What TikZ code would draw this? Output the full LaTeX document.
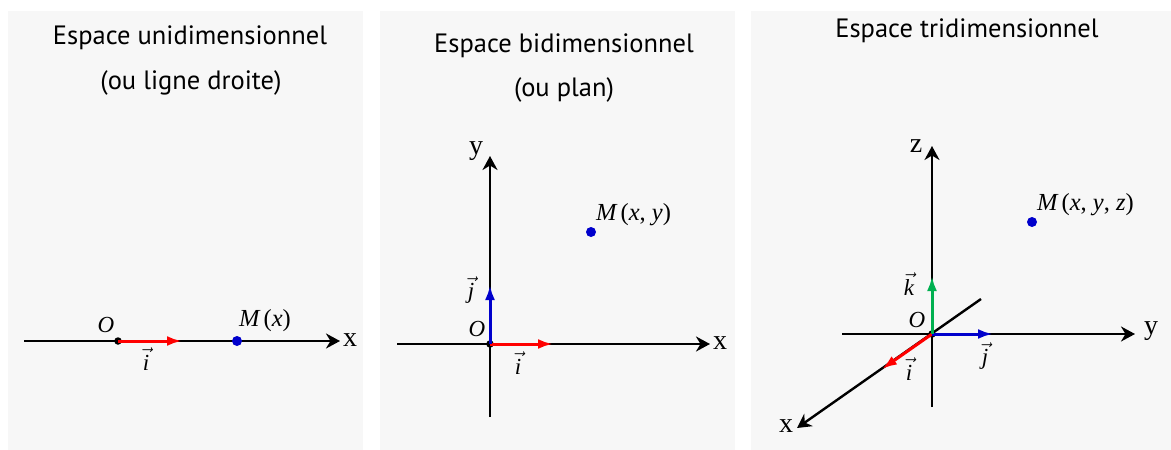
\documentclass[tikz,border=0pt]{standalone}
\usepackage{fontspec}
\setmainfont{Liberation Serif}
\newfontfamily\titlefont{PT Sans}
\usetikzlibrary{arrows.meta}
\definecolor{panelbg}{HTML}{F7F7F7}
\definecolor{vred}{HTML}{FF0000}
\definecolor{vblue}{HTML}{0000CC}
\definecolor{vgreen}{HTML}{00B050}
\newcommand{\vecl}[1]{$\vec{\mbox{\itshape #1}}$}
\tikzset{
  panel/.style={fill=panelbg, draw=none},
  ttl/.style={font=\titlefont\fontsize{26.5}{30}\selectfont, anchor=base, inner sep=0pt},
  axis/.style={line width=2.4pt, -{Stealth[length=14pt,width=15pt,inset=4.5pt]}},
  vecarrow/.style={line width=3pt, -{Latex[length=15pt,width=10pt]}},
  axlbl/.style={font=\fontsize{28}{30}\selectfont, inner sep=0pt},
  mlbl/.style={font=\fontsize{23}{26}\selectfont, inner sep=0pt},
  plbl/.style={font=\fontsize{24.5}{27}\selectfont, inner sep=0pt},
  odot/.style={circle, fill=black, minimum size=7.5pt, inner sep=0pt},
  mdot/.style={circle, fill=vblue, minimum size=10pt, inner sep=0pt},
}
\begin{document}
\begin{tikzpicture}[x=1pt,y=-1pt]
\useasboundingbox (0,0) rectangle (1171,450);
\fill[white] (0,0) rectangle (1171,450);
% panels
\path[panel] (8,11) rectangle (363,450);
\path[panel] (380,11) rectangle (735,450);
\path[panel] (751,11) rectangle (1171,450);
% titles
\node[ttl] (t1a) at (190,44) {Espace unidimensionnel};
\node[ttl] (t1b) at (191,89) {(ou ligne droite)};
\node[ttl] (t2a) at (564,52) {Espace bidimensionnel};
\node[ttl] (t2b) at (564,96) {(ou plan)};
\node[ttl] (t3a) at (967,37) {Espace tridimensionnel};

% ---------- panel 1
\coordinate (a1s) at (24,341);
\coordinate (a1e) at (340,341);
\coordinate (i1tip) at (182,341);
\draw[axis] (a1s) -- (a1e);
\node[odot] (O1) at (118,341) {};
\draw[vecarrow, vred] (O1.center) -- (i1tip);
\node[mdot] (M1) at (237,341) {};
\node[axlbl] (x1) at (350,340) {x};
\node[mlbl] (O1l) at (106,325) {\itshape O};
\node[plbl] (M1l) at (265,321) {{\itshape M}\,({\itshape x})};
\node[mlbl] (i1l) at (146,359) {\vecl{i}};

% ---------- panel 2
\coordinate (x2s) at (397,344);
\coordinate (x2e) at (710,344);
\coordinate (y2s) at (490,417);
\coordinate (y2e) at (490,156);
\coordinate (i2tip) at (553,344);
\coordinate (j2tip) at (490,285);
\draw[axis] (x2s) -- (x2e);
\draw[axis] (y2s) -- (y2e);
\node[odot] (O2) at (490,344) {};
\draw[vecarrow, vred] (O2.center) -- (i2tip);
\draw[vecarrow, vblue] (O2.center) -- (j2tip);
\node[mdot] (M2) at (591,232) {};
\node[axlbl] (x2) at (720,343) {x};
\node[axlbl] (y2) at (476,151) {y};
\node[mlbl] (O2l) at (477,329) {\itshape O};
\node[mlbl] (j2l) at (471,290) {\vecl{j}};
\node[mlbl] (i2l) at (518,363) {\vecl{i}};
\node[plbl, anchor=west] (M2l) at (596,215) {{\itshape M}\,({\itshape x}, {\itshape y})};

% ---------- panel 3
\coordinate (y3s) at (842,334);
\coordinate (y3e) at (1135,334);
\coordinate (z3s) at (932,407);
\coordinate (z3e) at (932,146);
\coordinate (x3s) at (981,299);
\coordinate (x3e) at (797,428);
\coordinate (i3tip) at (882,369);
\coordinate (j3tip) at (993,334);
\coordinate (k3tip) at (932,276);
\draw[axis] (y3s) -- (y3e);
\draw[axis] (z3s) -- (z3e);
\draw[axis] (x3s) -- (x3e);
\node[odot] (O3) at (932,334) {};
\draw[vecarrow, vred] (O3.center) -- (i3tip);
\draw[vecarrow, vblue] (O3.center) -- (j3tip);
\draw[vecarrow, vgreen] (O3.center) -- (k3tip);
\node[mdot] (M3) at (1032,222) {};
\node[axlbl] (y3) at (1151,331) {y};
\node[axlbl] (z3) at (916,146) {z};
\node[axlbl] (x3) at (786,426) {x};
\node[mlbl] (O3l) at (917,320) {\itshape O};
\node[mlbl] (k3l) at (909,284) {\vecl{k}};
\node[mlbl] (j3l) at (985,356) {\vecl{j}};
\node[mlbl] (i3l) at (909,369) {\vecl{i}};
\node[plbl, anchor=west] (M3l) at (1037,205) {{\itshape M}\,({\itshape x}, {\itshape y}, {\itshape z})};
\end{tikzpicture}
\end{document}
